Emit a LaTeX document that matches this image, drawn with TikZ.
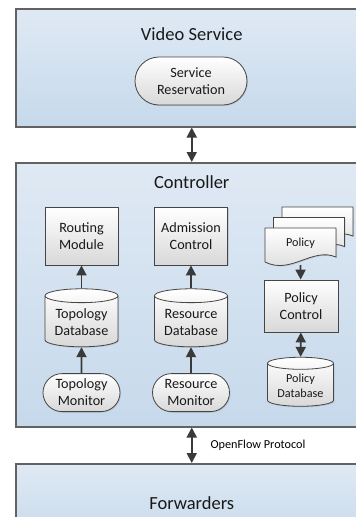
\documentclass[tikz,border=0pt]{standalone}
\usepackage{fontspec}
\setmainfont{Carlito}
\usetikzlibrary{shapes.geometric, shapes.misc, arrows.meta, positioning, shadows}
\definecolor{layertop}{HTML}{DFE9F4}
\definecolor{layerbottom}{HTML}{C6D9EB}
\definecolor{layerline}{HTML}{626262}
\definecolor{boxline}{HTML}{454545}
\definecolor{boxbottom}{HTML}{D8D8D8}
\definecolor{arrowdark}{HTML}{3A3A3A}
\newcommand{\titlesize}{\fontsize{18.5}{22}\selectfont}
\newcommand{\boxsize}{\fontsize{14.2}{17}\selectfont}
\newcommand{\smallsize}{\fontsize{12.2}{14.5}\selectfont}

\tikzset{
  layerbox/.style={draw=layerline, line width=1.5pt, top color=layertop, bottom color=layerbottom,
    minimum width=352pt, anchor=north west, inner sep=0pt,
    drop shadow={shadow xshift=0.8pt, shadow yshift=-0.8pt, opacity=0.3}},
  layertitle/.style={font=\titlesize, text=black!90},
  modbox/.style={draw=boxline, line width=0.8pt, top color=white, bottom color=boxbottom,
    minimum width=73pt, minimum height=58pt, align=center, font=\boxsize, text=black!90,
    inner sep=2pt, drop shadow={shadow xshift=1pt, shadow yshift=-1pt, opacity=0.25}},
  dbnode/.style={modbox, cylinder, shape border rotate=90, aspect=0.24},
  monitor/.style={modbox, rounded rectangle, minimum width=81pt, minimum height=38pt},
  docsheet/.style={draw=boxline, line width=0.8pt, top color=white, bottom color=boxbottom,
    drop shadow={shadow xshift=1pt, shadow yshift=-1pt, opacity=0.25}},
  arr/.style={draw=arrowdark, line width=1.8pt, -{Triangle[length=10pt,width=10pt]}},
  biarr/.style={arr, {Triangle[length=10pt,width=10pt]}-{Triangle[length=10pt,width=10pt]}},
}

\begin{document}
\begin{tikzpicture}[x=1pt, y=-1pt]
  \useasboundingbox (0,0) rectangle (356,517);
  \clip (0,0) rectangle (356,517);

  % service layer
  \node[layerbox, minimum height=118pt] (video) at (15,8) {};
  \node[layertitle] at ([yshift=-26pt]video.north) {Video Service};
  \node[modbox, rounded rectangle, minimum width=116pt, minimum height=48pt] (reserve) at (191,81) {Service\\Reservation};

  % controller layer
  \node[layerbox, minimum height=264pt] (ctrl) at (15,162) {};
  \node[layertitle] at ([yshift=-20pt]ctrl.north) {Controller};
  \node[modbox] (route) at (81.5,236) {Routing\\Module};
  \node[dbnode, below=23pt of route] (topodb) {Topology\\Database};
  \node[monitor, below=26pt of topodb] (topomon) {Topology\\Monitor};
  \node[modbox] (admit) at (191,236) {Admission\\Control};
  \node[dbnode, below=23pt of admit] (resdb) {Resource\\Database};
  \node[monitor, below=26pt of resdb] (resmon) {Resource\\Monitor};

  % stacked policy sheets, back to front
  \foreach \dx/\dy in {17/-21, 8.5/-10.5, 0/0}
    \draw[docsheet, shift={(\dx,\dy)}] (265,228) -- (336,228) -- (336,257)
      .. controls (312,247) and (291,275) .. (265,262) -- cycle;
  \node[font=\smallsize, text=black!90] (policy) at (300.5,243) {Policy};
  \coordinate (policyfoot) at (300.5,265);
  \node[modbox, minimum width=74pt, minimum height=52pt] (pctrl) at (301,306) {Policy\\Control};
  \node[dbnode, font=\smallsize, minimum width=66pt, minimum height=49pt] (pdb) at (300.5,386) {Policy\\Database};

  % forwarding layer
  \node[layerbox, minimum height=80pt] (fwd) at (15,463) {};
  \node[layertitle] at ([yshift=-40pt]fwd.north) {Forwarders};

  \draw[biarr] (video) -- (ctrl);
  \draw[biarr] (ctrl) -- node[right=18pt, inner sep=0pt, font=\smallsize] {OpenFlow Protocol} (fwd);
  \draw[arr] (topodb) -- (route);
  \draw[arr] (topomon) -- (topodb);
  \draw[arr] (resdb) -- (admit);
  \draw[arr] (resmon) -- (resdb);
  \draw[arr] (policyfoot) -- (pctrl);
  \draw[biarr] (pctrl) -- (pdb);
\end{tikzpicture}
\end{document}
